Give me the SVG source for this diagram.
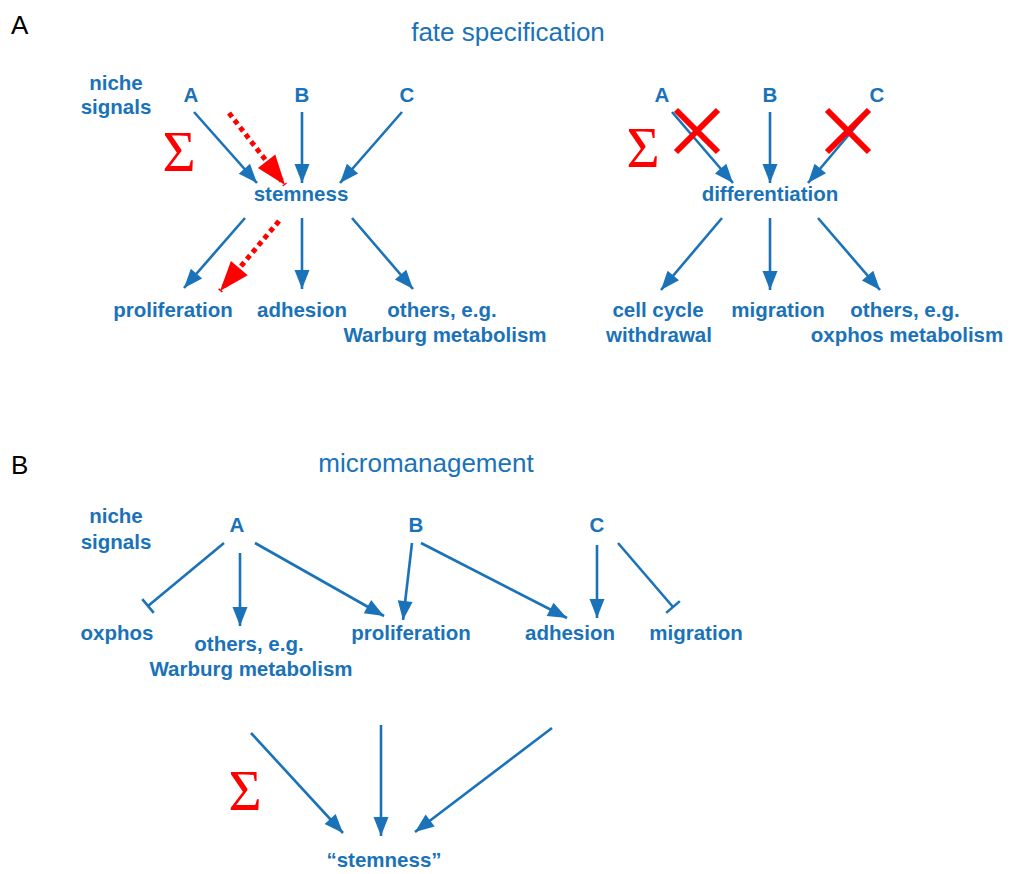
<svg xmlns="http://www.w3.org/2000/svg" width="1010" height="874" viewBox="0 0 1010 874">
<style>
.t{font-family:"Liberation Sans",Arial,sans-serif;font-weight:bold;font-size:20.5px;fill:#1A72B9;text-anchor:middle}
.ttl{font-family:"Liberation Sans",Arial,sans-serif;font-size:26px;fill:#1A72B9;text-anchor:middle}
.pl{font-family:"Liberation Sans",Arial,sans-serif;font-size:26px;fill:#000}
.sig{font-family:"Liberation Serif","Times New Roman",serif;font-size:57px;fill:#FF0000;text-anchor:middle}
.a{stroke:#1A72B9;stroke-width:2.6;fill:none;marker-end:url(#ah)}
.i{stroke:#1A72B9;stroke-width:2.6;fill:none;marker-end:url(#tb)}
.r{stroke:#FF0000;stroke-width:5;stroke-dasharray:5 4;fill:none;marker-end:url(#rh)}
.x{stroke:#FF0000;stroke-width:6;fill:none}
</style>
<defs>
<marker id="ah" markerUnits="userSpaceOnUse" markerWidth="21" markerHeight="16" refX="19" refY="7.5" orient="auto" overflow="visible"><path d="M0,0 L19,7.5 L0,15 Z" fill="#1A72B9"/></marker>
<marker id="rh" markerUnits="userSpaceOnUse" markerWidth="32" markerHeight="24" refX="30" refY="11" orient="auto" overflow="visible"><path d="M0,0 L30,11 L0,22 Z" fill="#FF0000"/></marker>
<marker id="tb" markerUnits="userSpaceOnUse" markerWidth="4" markerHeight="20" refX="0" refY="0" orient="auto" overflow="visible"><path d="M0,-9 L0,9" stroke="#1A72B9" stroke-width="2.6"/></marker>
</defs>

<g id="panel-labels">
<text class="pl" x="11" y="34">A</text>
<text class="pl" x="11" y="474">B</text>
<text class="ttl" x="508" y="41">fate specification</text>
<text class="ttl" x="426" y="472">micromanagement</text>
</g>

<g id="A-left-niche"><text class="t" x="116" y="90">niche</text><text class="t" x="116" y="114">signals</text></g>
<g id="A-left-A"><text class="t" x="191" y="102">A</text></g>
<g id="A-left-B"><text class="t" x="302" y="102">B</text></g>
<g id="A-left-C"><text class="t" x="407" y="102">C</text></g>
<g id="A-left-sigma"><text class="sig" x="179" y="171">Σ</text></g>
<g id="A-left-stemness"><text class="t" x="301" y="201">stemness</text></g>
<g id="A-left-proliferation"><text class="t" x="173" y="317">proliferation</text></g>
<g id="A-left-adhesion"><text class="t" x="302" y="317">adhesion</text></g>
<g id="A-left-others"><text class="t" x="442" y="317">others, e.g.</text><text class="t" x="445" y="342">Warburg metabolism</text></g>

<g id="A-right-A"><text class="t" x="662" y="102">A</text></g>
<g id="A-right-B"><text class="t" x="770" y="102">B</text></g>
<g id="A-right-C"><text class="t" x="877" y="102">C</text></g>
<g id="A-right-sigma"><text class="sig" x="643" y="167">Σ</text></g>
<g id="A-right-differentiation"><text class="t" x="770" y="201">differentiation</text></g>
<g id="A-right-cellcycle"><text class="t" x="658" y="317">cell cycle</text><text class="t" x="659" y="342">withdrawal</text></g>
<g id="A-right-migration"><text class="t" x="778" y="317">migration</text></g>
<g id="A-right-others"><text class="t" x="905" y="317">others, e.g.</text><text class="t" x="907" y="342">oxphos metabolism</text></g>

<g id="B-niche"><text class="t" x="116" y="523">niche</text><text class="t" x="116" y="549">signals</text></g>
<g id="B-A"><text class="t" x="237" y="532">A</text></g>
<g id="B-B"><text class="t" x="416" y="532">B</text></g>
<g id="B-C"><text class="t" x="597" y="532">C</text></g>
<g id="B-oxphos"><text class="t" x="117" y="640">oxphos</text></g>
<g id="B-others"><text class="t" x="249" y="651">others, e.g.</text><text class="t" x="251" y="676">Warburg metabolism</text></g>
<g id="B-proliferation"><text class="t" x="411" y="640">proliferation</text></g>
<g id="B-adhesion"><text class="t" x="570" y="640">adhesion</text></g>
<g id="B-migration"><text class="t" x="696" y="640">migration</text></g>
<g id="B-sigma"><text class="sig" x="245" y="810">Σ</text></g>
<g id="B-stemness"><text class="t" x="384" y="867">“stemness”</text></g>

<g id="connectors">
<line class="a" x1="194" y1="112" x2="257" y2="183"/>
<line class="r" x1="229" y1="113" x2="285" y2="185"/>
<line class="a" x1="302" y1="112" x2="302" y2="183"/>
<line class="a" x1="402" y1="112" x2="340" y2="183"/>
<line class="a" x1="245" y1="218" x2="184" y2="288"/>
<line class="r" x1="279" y1="221" x2="220" y2="291"/>
<line class="a" x1="302" y1="218" x2="302" y2="289"/>
<line class="a" x1="352" y1="218" x2="413" y2="289"/>

<line class="a" x1="672" y1="112" x2="733" y2="183"/>
<line class="a" x1="770" y1="112" x2="770" y2="183"/>
<line class="a" x1="868" y1="112" x2="808" y2="183"/>
<line class="a" x1="722" y1="218" x2="661" y2="290"/>
<line class="a" x1="770" y1="218" x2="770" y2="290"/>
<line class="a" x1="818" y1="218" x2="880" y2="290"/>

<line class="i" x1="224" y1="543" x2="148" y2="606"/>
<line class="a" x1="240" y1="553" x2="240" y2="626"/>
<line class="a" x1="255" y1="543" x2="384" y2="616"/>
<line class="a" x1="412" y1="543" x2="403" y2="620"/>
<line class="a" x1="421" y1="543" x2="567" y2="618"/>
<line class="a" x1="597" y1="545" x2="597" y2="618"/>
<line class="i" x1="618" y1="543" x2="673" y2="607"/>

<line class="a" x1="251" y1="733" x2="343" y2="833"/>
<line class="a" x1="381" y1="725" x2="381" y2="836"/>
<line class="a" x1="552" y1="728" x2="415" y2="832"/>
</g>

<g id="crosses">
<path class="x" d="M676,110 L718,152 M718,110 L676,152"/>
<path class="x" d="M827,110 L869,152 M869,110 L827,152"/>
</g>
</svg>
